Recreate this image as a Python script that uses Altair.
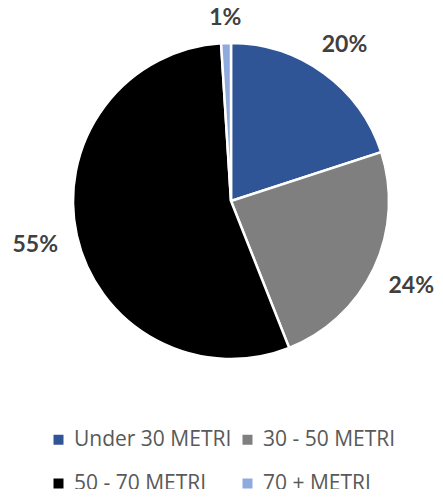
import altair as alt
import pandas as pd

categories = ["Under 30 METRI", "30 - 50 METRI", "50 - 70 METRI", "70 + METRI"]
values = [20, 24, 55, 1]
labels = ["20%", "24%", "55%", "1%"]
colors = ["#2F5597", "#7F7F7F", "#000000", "#8FAADC"]

df = pd.DataFrame({
    "cat": categories,
    "v": values,
    "lab": labels,
    "idx": list(range(len(categories))),
})

CX, CY = 223, 193

pie = alt.Chart(df).mark_arc(outerRadius=158, stroke="white", strokeWidth=2.5).encode(
    theta=alt.Theta("v:Q", stack=True),
    order=alt.Order("idx:Q"),
    x=alt.value(CX), y=alt.value(CY),
    color=alt.Color(
        "cat:N",
        scale=alt.Scale(domain=categories, range=colors),
        sort=categories,
        legend=alt.Legend(
            title=None, orient="none", legendX=40, legendY=421,
            direction="horizontal", columns=2, columnPadding=5, rowPadding=22,
            symbolType="square", symbolSize=100, symbolStrokeWidth=0,
            labelFont="Open Sans", labelFontSize=21, labelColor="#595959",
            labelOffset=5, labelLimit=300,
        ),
    ),
)

text = alt.Chart(df).transform_joinaggregate(
    total="sum(v)"
).transform_window(
    cum="sum(v)", sort=[alt.SortField("idx")], frame=[None, 0]
).transform_calculate(
    mid="(datum.cum - datum.v/2)/datum.total*2*PI",
    r="182 + 19*abs(sin(datum.mid))",
).mark_text(
    font="Lato", fontWeight="bold", fontSize=23, color="#404040",
).encode(
    theta=alt.Theta("mid:Q", scale=None),
    x=alt.value(CX), y=alt.value(CY),
    radius=alt.Radius("r:Q", scale=None),
    text="lab:N",
)

chart = alt.layer(pie, text).resolve_scale(theta="independent").properties(
    width=427, height=481, padding=0, autosize="none"
).configure_view(stroke=None)

chart.save("out.html", embed_options={"renderer": "svg", "actions": False})
